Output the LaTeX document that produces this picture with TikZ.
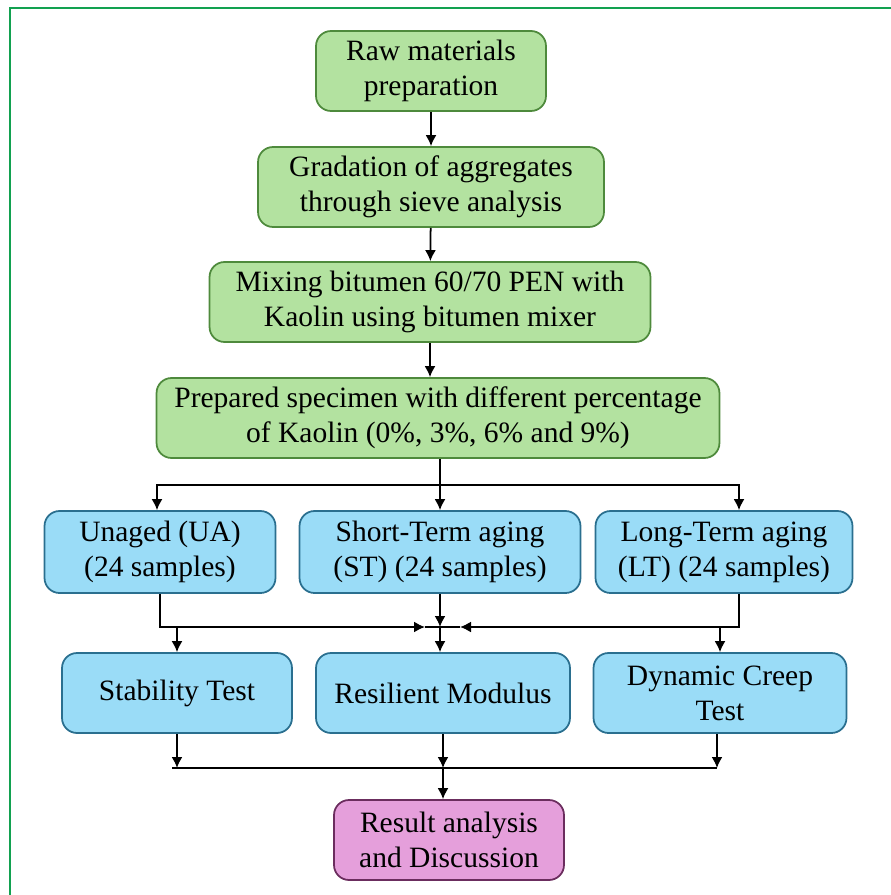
\documentclass[tikz,border=0pt]{standalone}
\usepackage{fontspec}
\setmainfont{Liberation Serif}
\usetikzlibrary{arrows.meta}
\tikzset{>={Latex[length=2.2mm,width=2.2mm]}}
\definecolor{framegreen}{HTML}{12A150}
\definecolor{greenfill}{HTML}{B3E2A0}
\definecolor{greenline}{HTML}{4E8A3C}
\definecolor{bluefill}{HTML}{9ADCF7}
\definecolor{blueline}{HTML}{2A6F8F}
\definecolor{pinkfill}{HTML}{E59FDB}
\definecolor{pinkline}{HTML}{6B2D5E}
\tikzstyle{stagebox}=[rectangle,line width=1pt,minimum height=1.6cm,rounded corners=0.3cm,align=center,inner sep=0pt]
\tikzstyle{greenbox}=[stagebox,draw=greenline,fill=greenfill]
\tikzstyle{bluebox}=[stagebox,draw=blueline,fill=bluefill]
\tikzstyle{pinkbox}=[stagebox,draw=pinkline,fill=pinkfill]
\tikzstyle{flow}=[line width=1pt]

\begin{document}
\begin{tikzpicture}[x=0.02cm,y=-0.02cm,font=\fontsize{16.8}{19.9}\selectfont]
	\useasboundingbox (0,0) rectangle (891,895);
	\draw[framegreen,line width=1.3pt] (10,895) -- (10,8) -- (891,8);
	
	\node[greenbox, minimum width=4.6cm] (raw) at (431,71) {Raw materials\\preparation};
	\node[greenbox, minimum width=6.92cm] (grad) at (431,187) {Gradation of aggregates\\through sieve analysis};
	\node[greenbox, minimum width=8.82cm] (mix) at (430,302) {Mixing bitumen 60/70 PEN with\\Kaolin using bitumen mixer};
	\node[greenbox, minimum width=11.26cm] (spec) at (438,418) {Prepared specimen with different percentage\\of Kaolin (0\%, 3\%, 6\% and 9\%)};
	
	\node[bluebox, minimum width=4.62cm, minimum height=1.64cm] (unaged) at (160,552) {Unaged (UA)\\(24 samples)};
	\node[bluebox, minimum width=5.62cm, minimum height=1.64cm] (shortterm) at (440,552) {Short-Term aging\\(ST) (24 samples)};
	\node[bluebox, minimum width=5.14cm, minimum height=1.64cm] (longterm) at (724,552) {Long-Term aging\\(LT) (24 samples)};
	
	\node[bluebox, minimum width=4.6cm] (stability) at (177,693) {Stability Test};
	\node[bluebox, minimum width=5.08cm] (resilient) at (443,693) {Resilient Modulus};
	\node[bluebox, minimum width=5.06cm] (dynamic) at (720,693) {Dynamic Creep\\Test};
	
	\node[pinkbox, minimum width=4.6cm] (result) at (449,840) {Result analysis\\and Discussion};
	
	\coordinate (split) at (440,485);
	\coordinate (merge) at (440,627);
	\coordinate (join) at (443,768);
	
	\draw[flow,->] (raw) -- (grad);
	\draw[flow,->] (grad) -- (mix);
	\draw[flow,->] (mix.south) -- (mix.south |- spec.north);
	
	\draw[flow] (spec.south -| split) -- (split);
	\draw[flow,->] (split) -| ([xshift=-0.06cm]unaged.north);
	\draw[flow,->] (split) -- (shortterm.north);
	\draw[flow,->] (split) -| ([xshift=0.3cm]longterm.north);
	
	\draw[flow] ([xshift=-0.3cm]merge) -- ([xshift=0.4cm]merge);
	\draw[flow,->] (unaged.south) |- ([xshift=-0.3cm]merge);
	\draw[flow,->] ([xshift=0.3cm]longterm.south) |- ([xshift=0.4cm]merge);
	\draw[flow,->] (shortterm.south) -- (merge);
	\draw[flow,->] (stability.north |- merge) -- (stability.north);
	\draw[flow,->] (merge) -- (merge |- resilient.north);
	\draw[flow,->] (dynamic.north |- merge) -- (dynamic.north);
	
	\draw[flow] ([xshift=-0.1cm]stability.south |- join) -- ([xshift=-0.06cm]dynamic.south |- join);
	\draw[flow,->] (stability.south) -- (stability.south |- join);
	\draw[flow,->] (resilient.south) -- (resilient.south |- join);
	\draw[flow,->] ([xshift=-0.06cm]dynamic.south) -- ([xshift=-0.06cm]dynamic.south |- join);
	\draw[flow,->] (join) -- (join |- result.north);
\end{tikzpicture}
\end{document}
